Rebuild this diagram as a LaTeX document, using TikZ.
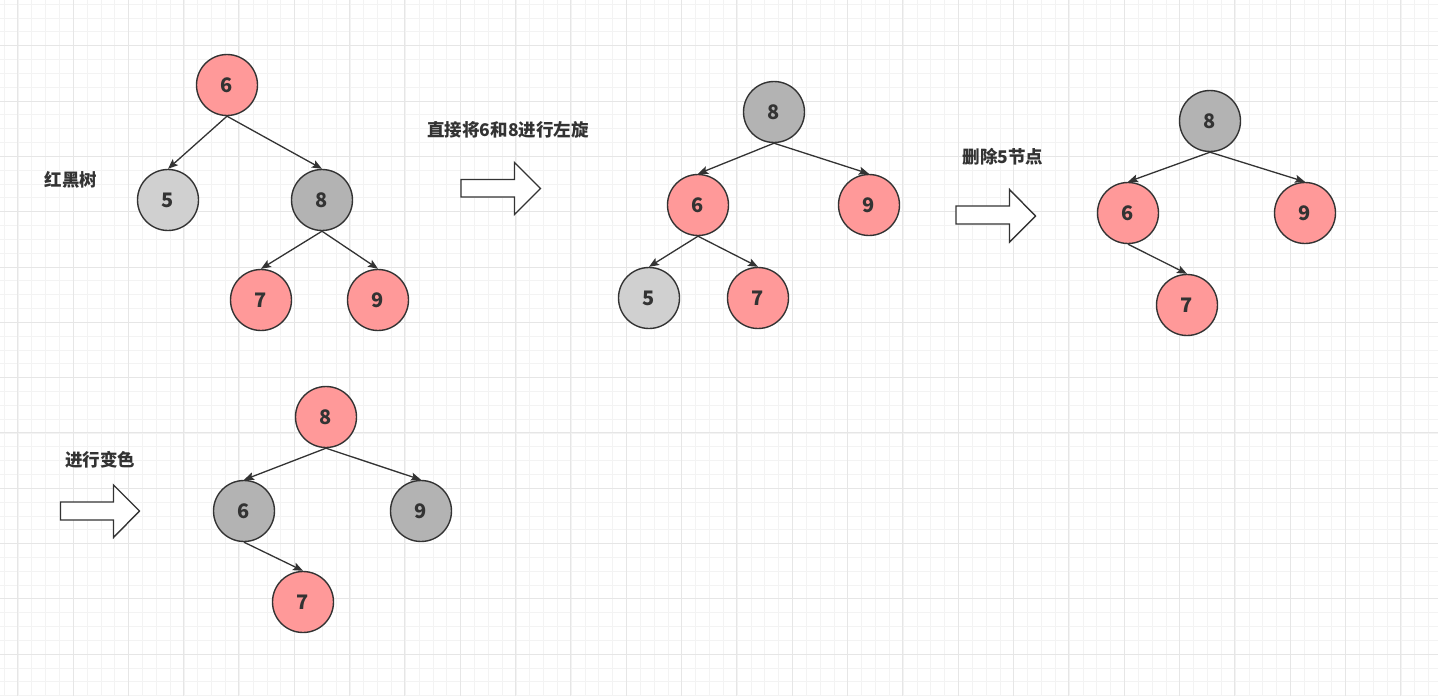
\documentclass[tikz,border=0pt]{standalone}
\usepackage{fontspec}
\setmainfont{Noto Sans CJK SC}
\usetikzlibrary{arrows.meta}
\definecolor{nred}{HTML}{FF9999}
\definecolor{nlight}{HTML}{D0D0D0}
\definecolor{ngray}{HTML}{B3B3B3}
\definecolor{ink}{HTML}{333333}
\definecolor{gminor}{HTML}{F3F3F3}
\definecolor{gmajor}{HTML}{E6E6E6}
\tikzset{
  tn/.style={circle, draw=ink, line width=1.4pt, minimum size=61pt, inner sep=0pt, text=ink, font=\fontsize{20}{20}\selectfont\bfseries},
  rn/.style={tn, fill=nred},
  ln/.style={tn, fill=nlight},
  gn/.style={tn, fill=ngray},
  edge/.style={draw=ink, line width=1.3pt, -{Stealth[length=10pt,width=8pt,inset=2pt]}},
  lbl/.style={text=ink, font=\fontsize{17.5}{17.5}\selectfont\bfseries, inner sep=0pt},
  blockarrow/.style={draw=ink, fill=white, line width=1.4pt, line join=miter}
}
\begin{document}
\begin{tikzpicture}[x=1pt,y=-1pt]
\useasboundingbox (0,0) rectangle (1438,696);
\fill[white] (0,0) rectangle (1438,696);
% grid
\foreach \i in {0,...,104} {\draw[gminor, line width=0.8pt] ({4.2+13.83*\i-13.83},0) -- ({4.2+13.83*\i-13.83},696);}
\foreach \i in {0,...,51} {\draw[gminor, line width=0.8pt] (0,{4.2+13.83*\i}) -- (1438,{4.2+13.83*\i});}
\foreach \i in {0,...,26} {\draw[gmajor, line width=1pt] ({17.7+55.32*\i},0) -- ({17.7+55.32*\i},696);}
\foreach \i in {0,...,13} {\draw[gmajor, line width=1pt] (0,{-9.6+55.32*\i}) -- (1438,{-9.6+55.32*\i});}

% tree 1
\node[lbl] (t1) at (71,180) {红黑树};
\node[rn] (a6) at (227,85) {6};
\node[ln] (a5) at (168,200) {5};
\node[gn] (a8) at (322,200) {8};
\node[rn] (a7) at (261,300) {7};
\node[rn] (a9) at (378,300) {9};
\draw[edge] (a6.south) -- (a5.north);
\draw[edge] (a6.south) -- (a8.north);
\draw[edge] (a8.south) -- (a7.north);
\draw[edge] (a8.south) -- (a9.north);

% arrow 1
\node[lbl] (t2) at (508,130) {直接将6和8进行左旋};
\draw[blockarrow] (461,179.5) -- (514.5,179.5) -- (514.5,162.5) -- (540.5,188.5) -- (514.5,214.5) -- (514.5,197) -- (461,197) -- cycle;

% tree 2
\node[gn] (b8) at (774,112) {8};
\node[rn] (b6) at (698,205) {6};
\node[rn] (b9) at (869,205) {9};
\node[ln] (b5) at (649,298) {5};
\node[rn] (b7) at (758,298) {7};
\draw[edge] (b8.south) -- (b6.north);
\draw[edge] (b8.south) -- (b9.north);
\draw[edge] (b6.south) -- (b5.north);
\draw[edge] (b6.south) -- (b7.north);

% arrow 2
\node[lbl] (t3) at (1003,157) {删除5节点};
\draw[blockarrow] (956,206) -- (1009.5,206) -- (1009.5,189.5) -- (1035.5,216) -- (1009.5,242) -- (1009.5,224) -- (956,224) -- cycle;

% tree 3
\node[gn] (c8) at (1210,121) {8};
\node[rn] (c6) at (1128,213) {6};
\node[rn] (c9) at (1305,213) {9};
\node[rn] (c7) at (1187,305) {7};
\draw[edge] (c8.south) -- (c6.north);
\draw[edge] (c8.south) -- (c9.north);
\draw[edge] (c6.south) -- (c7.north);

% arrow 3
\node[lbl] (t4) at (100,460) {进行变色};
\draw[blockarrow] (60.5,502) -- (113.5,502) -- (113.5,485) -- (139.5,511) -- (113.5,537.5) -- (113.5,520) -- (60.5,520) -- cycle;

% tree 4
\node[rn] (d8) at (326,417) {8};
\node[gn] (d6) at (244,511) {6};
\node[gn] (d9) at (421,511) {9};
\node[rn] (d7) at (303,602) {7};
\draw[edge] (d8.south) -- (d6.north);
\draw[edge] (d8.south) -- (d9.north);
\draw[edge] (d6.south) -- (d7.north);
\end{tikzpicture}
\end{document}
